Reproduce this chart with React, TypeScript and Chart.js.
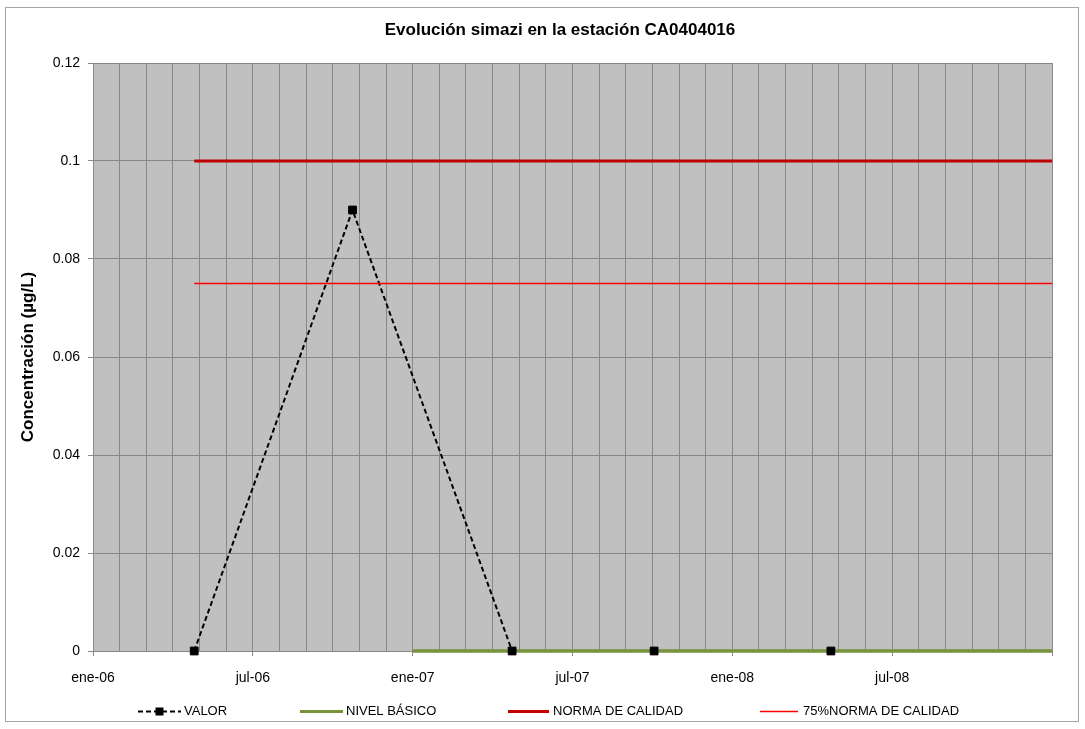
import React, { useEffect, useRef } from 'react';
import { Chart, registerables } from 'chart.js';

Chart.register(...registerables);

// ---- data ----
const AXIS_START = '2006-01-01';
const AXIS_END = '2009-01-01';
const xTickLabels = ['ene-06', 'jul-06', 'ene-07', 'jul-07', 'ene-08', 'jul-08'];
const yTickValues = [0, 0.02, 0.04, 0.06, 0.08, 0.1, 0.12];

const valorDates = ['2006-04-25', '2006-10-24', '2007-04-23', '2007-10-03', '2008-04-22'];
const valorValues = [0, 0.09, 0, 0, 0];

const nivelDates = ['2007-01-01', '2009-01-01'];
const nivelValues = [0, 0];

const normaDates = ['2006-04-25', '2009-01-01'];
const normaValues = [0.1, 0.1];

const norma75Dates = ['2006-04-25', '2009-01-01'];
const norma75Values = [0.075, 0.075];

const seriesNames = ['VALOR', 'NIVEL BÁSICO', 'NORMA DE CALIDAD', '75%NORMA DE CALIDAD'];
const titleText = 'Evolución simazi en la estación CA0404016';
const yTitleText = 'Concentración (µg/L)';

// ---- helpers ----
function monthIndex(s: string): number {
  const [y, m, d] = s.split('-').map(Number);
  const dim = new Date(y, m, 0).getDate();
  const [y0, m0] = AXIS_START.split('-').map(Number);
  return (y - y0) * 12 + (m - m0) + (d - 1) / dim;
}
function toPoints(dates: string[], values: number[]) {
  return dates.map((d, i) => ({ x: monthIndex(d), y: values[i] }));
}

const FONT = '"Liberation Sans", Arial, sans-serif';
const GRID = '#888888';
const COLORS = { valor: '#000000', nivel: '#77933C', norma: '#C00000', norma75: '#FF0000' };

const decorPlugin = {
  id: 'decor',
  beforeDraw(chart: any) {
    const { ctx, chartArea } = chart;
    ctx.save();
    ctx.fillStyle = '#ffffff';
    ctx.fillRect(0, 0, chart.width, chart.height);
    ctx.strokeStyle = '#a6a6a6';
    ctx.lineWidth = 1;
    ctx.strokeRect(5.5, 7.5, chart.width - 12, chart.height - 15);
    ctx.fillStyle = '#C0C0C0';
    ctx.fillRect(chartArea.left, chartArea.top, chartArea.right - chartArea.left, chartArea.bottom - chartArea.top);
    ctx.restore();
  },
  afterDraw(chart: any) {
    const { ctx, chartArea } = chart;
    ctx.save();
    // title
    ctx.fillStyle = '#000';
    ctx.font = `bold 17px ${FONT}`;
    ctx.textAlign = 'center';
    ctx.textBaseline = 'middle';
    ctx.fillText(titleText, 560, 30);
    // y title
    ctx.save();
    ctx.translate(28, (chartArea.top + chartArea.bottom) / 2);
    ctx.rotate(-Math.PI / 2);
    ctx.font = `bold 17px ${FONT}`;
    ctx.fillText(yTitleText, 0, 0);
    ctx.restore();

    // legend
    const ly = 711;
    ctx.font = `13px ${FONT}`;
    ctx.textAlign = 'left';
    ctx.textBaseline = 'middle';
    const items = [
      { x1: 138, x2: 181, tx: 184, color: COLORS.valor, w: 2, dash: true },
      { x1: 300, x2: 343, tx: 346, color: COLORS.nivel, w: 3, dash: false },
      { x1: 508, x2: 549, tx: 553, color: COLORS.norma, w: 3, dash: false },
      { x1: 760, x2: 798, tx: 803, color: COLORS.norma75, w: 1.4, dash: false },
    ];
    items.forEach((it, i) => {
      ctx.save();
      ctx.strokeStyle = it.color;
      ctx.lineWidth = it.w;
      if (it.dash) ctx.setLineDash([5, 3]);
      ctx.beginPath();
      ctx.moveTo(it.x1, ly + 0.5);
      ctx.lineTo(it.x2, ly + 0.5);
      ctx.stroke();
      if (it.dash) {
        ctx.fillStyle = '#000';
        const cx = (it.x1 + it.x2) / 2;
        ctx.fillRect(cx - 4, ly - 3.5, 8, 8);
      }
      ctx.restore();
      ctx.fillStyle = '#000';
      ctx.fillText(seriesNames[i], it.tx, ly);
    });
    ctx.restore();
  },
};

export default function App() {
  const ref = useRef<HTMLCanvasElement | null>(null);

  useEffect(() => {
    if (!ref.current) return;
    const xMax = monthIndex(AXIS_END);
    const chart = new Chart(ref.current, {
      type: 'line',
      data: {
        datasets: [
          {
            label: seriesNames[0],
            data: toPoints(valorDates, valorValues),
            borderColor: COLORS.valor,
            borderWidth: 2,
            borderDash: [5, 3],
            pointRadius: 0,
            fill: false,
            order: 5,
            clip: false,
          },
          {
            label: seriesNames[2],
            data: toPoints(normaDates, normaValues),
            borderColor: COLORS.norma,
            borderWidth: 3,
            pointRadius: 0,
            order: 4,
          },
          {
            label: seriesNames[3],
            data: toPoints(norma75Dates, norma75Values),
            borderColor: COLORS.norma75,
            borderWidth: 1.3,
            pointRadius: 0,
            order: 4,
          },
          {
            label: seriesNames[1],
            data: toPoints(nivelDates, nivelValues),
            borderColor: COLORS.nivel,
            borderWidth: 3.5,
            pointRadius: 0,
            order: 3,
            clip: false,
          },
          {
            label: seriesNames[0] + ' markers',
            data: toPoints(valorDates, valorValues),
            showLine: false,
            pointStyle: 'rect',
            pointRadius: 5.5,
            pointBackgroundColor: '#000',
            pointBorderColor: '#000',
            pointBorderWidth: 1,
            order: 1,
            clip: false,
          },
        ],
      },
      options: {
        responsive: false,
        animation: false,
        devicePixelRatio: 1,
        layout: { padding: { left: 0, top: 63, right: 33, bottom: 38 } },
        plugins: { legend: { display: false }, tooltip: { enabled: false }, title: { display: false } },
        scales: {
          x: {
            type: 'linear',
            min: 0,
            max: xMax,
            afterFit: (s: any) => { s.height = 40; },
            afterBuildTicks: (s: any) => {
              const t = [];
              for (let i = 0; i <= xMax; i++) t.push({ value: i });
              s.ticks = t;
            },
            ticks: {
              autoSkip: false,
              maxRotation: 0,
              padding: 14,
              color: '#000',
              font: { family: FONT, size: 14 },
              callback: (v: any) => {
                const n = Math.round(Number(v));
                return n % 6 === 0 && n / 6 < xTickLabels.length ? xTickLabels[n / 6] : '';
              },
            },
            grid: {
              color: GRID,
              lineWidth: 1,
              tickLength: 5,
              tickColor: (c: any) => (c.tick && Math.round(c.tick.value) % 6 === 0 ? GRID : 'rgba(0,0,0,0)'),
            },
            border: { color: GRID, width: 1 },
          },
          y: {
            type: 'linear',
            min: 0,
            max: 0.12,
            afterFit: (s: any) => { s.width = 93; },
            afterBuildTicks: (s: any) => { s.ticks = yTickValues.map((v) => ({ value: v })); },
            ticks: {
              padding: 8,
              color: '#000',
              font: { family: FONT, size: 14 },
              callback: (v: any) => String(Number(Number(v).toFixed(2))),
            },
            grid: { color: GRID, lineWidth: 1, tickLength: 5, tickColor: GRID },
            border: { color: GRID, width: 1 },
          },
        },
      },
      plugins: [decorPlugin],
    });
    return () => chart.destroy();
  }, []);

  return (
    <div style={{ position: 'absolute', left: 0, top: 0, width: 1085, height: 729 }}>
      <canvas ref={ref} width={1085} height={729} style={{ display: 'block', width: 1085, height: 729 }} />
    </div>
  );
}
